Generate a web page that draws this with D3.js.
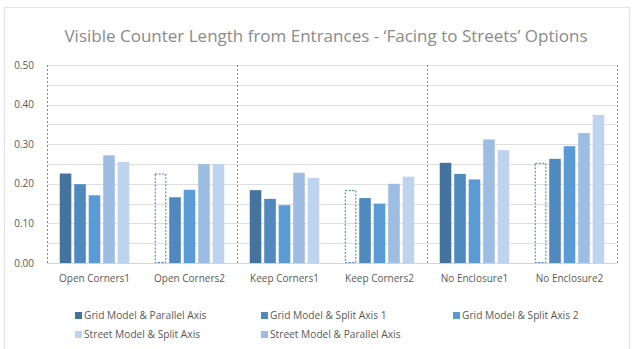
<html>
<head>
<meta charset="utf-8">
<script src="https://cdn.jsdelivr.net/npm/d3@7"></script>
<style>
  body { margin: 0; background: #fff; }
  text { font-family: "Open Sans", sans-serif; }
</style>
</head>
<body>
<svg width="636" height="349"></svg>
<script>
// data
var categories = ["Open Corners1", "Open Corners2", "Keep Corners1", "Keep Corners2", "No Enclosure1", "No Enclosure2"];
var gridParallel = [0.226, 0.226, 0.184, 0.184, 0.253, 0.253];
var gridSplit1   = [0.199, 0.166, 0.162, 0.164, 0.225, 0.263];
var gridSplit2   = [0.171, 0.185, 0.146, 0.150, 0.211, 0.295];
var streetParallel = [0.272, 0.250, 0.228, 0.200, 0.312, 0.328];
var streetSplit  = [0.255, 0.250, 0.215, 0.218, 0.285, 0.374];
// categories where the first series is only drawn as a dotted outline
var outlinedCats = ["Open Corners2", "Keep Corners2", "No Enclosure2"];
var yTicks = [0, 0.1, 0.2, 0.3, 0.4, 0.5];
var seriesNames = ["Grid Model & Parallel Axis", "Grid Model & Split Axis 1", "Grid Model & Split Axis 2",
                   "Street Model & Parallel Axis", "Street Model & Split Axis"];
var legendOrder = ["Grid Model & Parallel Axis", "Grid Model & Split Axis 1", "Grid Model & Split Axis 2",
                   "Street Model & Split Axis", "Street Model & Parallel Axis"];

var seriesValues = [gridParallel, gridSplit1, gridSplit2, streetParallel, streetSplit];
var colors = ["#44749d", "#4f89bd", "#5b9bd5", "#9dbde2", "#bed4ee"];

var svg = d3.select("svg");

// chart frame
svg.append("rect")
    .attr("x", 4.5).attr("y", 7.5)
    .attr("width", 625).attr("height", 360)
    .attr("fill", "none").attr("stroke", "#e3e3e3").attr("stroke-width", 1.2);

svg.append("text")
    .attr("x", 326).attr("y", 42)
    .attr("text-anchor", "middle")
    .style("font-size", "17px")
    .attr("fill", "#8a8a8a")
    .text("Visible Counter Length from Entrances - \u2018Facing to Streets\u2019 Options");

var x = d3.scaleBand().domain(categories).range([47, 617]);
var xs = d3.scaleBand().domain(seriesNames).range([0, x.bandwidth()])
    .paddingInner(0.2).paddingOuter(0.88);
var y = d3.scaleLinear().domain([0, 0.5]).range([263, 65]);
var color = d3.scaleOrdinal().domain(seriesNames).range(colors);

// gridlines every 0.05
svg.append("g").selectAll("line")
    .data(d3.range(0.05, 0.501, 0.05))
    .enter().append("line")
    .attr("x1", 47).attr("x2", 617)
    .attr("y1", function(d) { return Math.round(y(d)) + 0.5; })
    .attr("y2", function(d) { return Math.round(y(d)) + 0.5; })
    .attr("stroke", "#dedede").attr("stroke-width", 1);

// y tick labels
svg.append("g").selectAll("text")
    .data(yTicks)
    .enter().append("text")
    .attr("x", 34).attr("y", function(d) { return y(d) + 3.5; })
    .attr("text-anchor", "end")
    .style("font-size", "10px")
    .attr("fill", "#595959")
    .text(d3.format(".2f"));

// dotted dividers between pairs of categories
var dividers = [categories[0], categories[2], categories[4]];
svg.append("g").selectAll("line")
    .data(dividers.map(function(c) { return x(c); }).concat([x.range()[1]]))
    .enter().append("line")
    .attr("x1", function(d) { return d + 0.5; }).attr("x2", function(d) { return d + 0.5; })
    .attr("y1", y(0.5)).attr("y2", y(0))
    .attr("stroke", "#8c8c8c").attr("stroke-width", 1)
    .attr("stroke-dasharray", "2,2");

// bars
var rows = [];
categories.forEach(function(c, i) {
    seriesNames.forEach(function(s, j) {
        rows.push({ cat: c, series: s, value: seriesValues[j][i],
                    outline: j == 0 && outlinedCats.indexOf(c) >= 0 });
    });
});

svg.append("g").selectAll("rect")
    .data(rows)
    .enter().append("rect")
    .attr("x", function(d) { return x(d.cat) + xs(d.series) + (d.outline ? 0.5 : 0); })
    .attr("y", function(d) { return y(d.value) + (d.outline ? 0.5 : 0); })
    .attr("width", function(d) { return xs.bandwidth() - (d.outline ? 1 : 0); })
    .attr("height", function(d) { return y(0) - y(d.value) - (d.outline ? 1 : 0); })
    .attr("fill", function(d) { return d.outline ? "none" : color(d.series); })
    .attr("stroke", function(d) { return d.outline ? "#3f7cb6" : "none"; })
    .attr("stroke-width", 1)
    .attr("stroke-dasharray", function(d) { return d.outline ? "2,1.5" : null; });

// x axis baseline
svg.append("line")
    .attr("x1", 47).attr("x2", 617)
    .attr("y1", 263.5).attr("y2", 263.5)
    .attr("stroke", "#d4d4d4");

// category labels
svg.append("g").selectAll("text")
    .data(categories)
    .enter().append("text")
    .attr("x", function(d) { return x(d) + x.bandwidth() / 2; })
    .attr("y", 282)
    .attr("text-anchor", "middle")
    .style("font-size", "10px")
    .attr("fill", "#595959")
    .text(function(d) { return d; });

// legend
var legendPos = [[75, 312], [261, 312], [453, 312], [75, 331], [261, 331]];
var legend = svg.append("g").selectAll("g")
    .data(legendOrder)
    .enter().append("g")
    .attr("transform", function(d, i) { return "translate(" + legendPos[i][0] + "," + legendPos[i][1] + ")"; });

legend.append("rect")
    .attr("width", 7).attr("height", 7)
    .attr("fill", function(d) { return color(d); });

legend.append("text")
    .attr("x", 9).attr("y", 6.5)
    .style("font-size", "10.2px")
    .attr("fill", "#595959")
    .text(function(d) { return d; });
</script>
</body>
</html>
